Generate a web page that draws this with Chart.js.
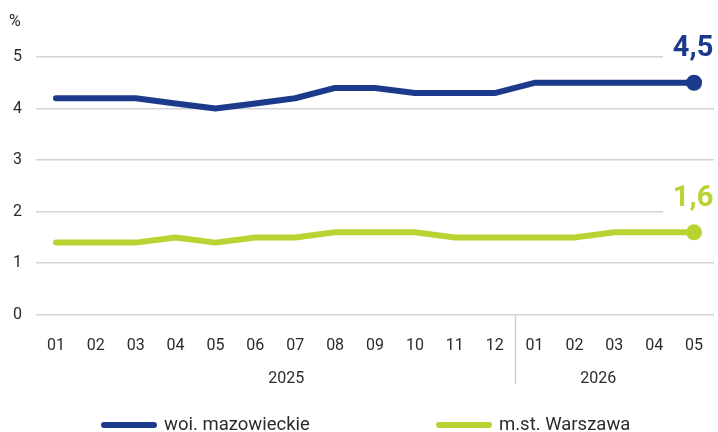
<!DOCTYPE html>
<html>
<head>
<meta charset="utf-8">
<script src="https://cdn.jsdelivr.net/npm/chart.js@4"></script>
<style>
  html, body { margin: 0; padding: 0; background: #fff; }
  #wrap { width: 718px; height: 432px; }
</style>
</head>
<body>
<div id="wrap"><canvas id="chart" width="718" height="432"></canvas></div>
<script>
// data
const months = ['01', '02', '03', '04', '05', '06', '07', '08', '09', '10', '11', '12', '01', '02', '03', '04', '05'];
const years = [{ label: '2025', from: 0, to: 11 }, { label: '2026', from: 12, to: 16 }];
const mazowieckie = [4.2, 4.2, 4.2, 4.1, 4.0, 4.1, 4.2, 4.4, 4.4, 4.3, 4.3, 4.3, 4.5, 4.5, 4.5, 4.5, 4.5];
const warszawa = [1.4, 1.4, 1.4, 1.5, 1.4, 1.5, 1.5, 1.6, 1.6, 1.6, 1.5, 1.5, 1.5, 1.5, 1.6, 1.6, 1.6];
const seriesNames = ['woi. mazowieckie', 'm.st. Warszawa'];
const yTicks = [0, 1, 2, 3, 4, 5];

const BLUE = '#1b3a8b';
const GREEN = '#b7d433';
const FONT = 'Roboto, "Open Sans", sans-serif';
const TEXT = '#2b2b2b';

const lastOnly = (r) => (ctx) => ctx.dataIndex === months.length - 1 ? r : 0;

// extra drawing: unit, last-value labels, years, separator, legend
const extras = {
    id: 'extras',
    afterDatasetsDraw(chart) {
        const { ctx, scales: { x, y } } = chart;
        ctx.save();

        // "%" unit
        ctx.fillStyle = TEXT;
        ctx.font = '16px ' + FONT;
        ctx.textAlign = 'left';
        ctx.textBaseline = 'middle';
        ctx.fillText('%', 9, 22);

        // last value labels, with a white gap in the gridline
        const last = months.length - 1;
        [[mazowieckie, BLUE], [warszawa, GREEN]].forEach(([data, color]) => {
            const px = x.getPixelForValue(last);
            const py = y.getPixelForValue(data[last]);
            ctx.fillStyle = '#fff';
            ctx.fillRect(663, py - 50, 60, 38);
            ctx.fillStyle = color;
            ctx.font = 'bold 29px ' + FONT;
            ctx.textAlign = 'center';
            ctx.textBaseline = 'middle';
            ctx.fillText(String(data[last]).replace('.', ','), px - 1, py - 34);
        });

        // year labels (nudged a bit toward the separator, like the original)
        ctx.fillStyle = TEXT;
        ctx.font = '16px ' + FONT;
        ctx.textAlign = 'center';
        const nudge = [11, -16];
        years.forEach((yr, i) => {
            const cx = (x.getPixelForValue(yr.from) + x.getPixelForValue(yr.to)) / 2;
            ctx.fillText(yr.label, cx + nudge[i], 379);
        });

        // separator between years
        const sx = Math.round((x.getPixelForValue(11) + x.getPixelForValue(12)) / 2) + 0.5;
        ctx.strokeStyle = '#cfcfcf';
        ctx.lineWidth = 1.5;
        ctx.beginPath();
        ctx.moveTo(sx, y.getPixelForValue(0));
        ctx.lineTo(sx, 384);
        ctx.stroke();

        // legend
        const legend = [[seriesNames[0], BLUE, 101], [seriesNames[1], GREEN, 436]];
        legend.forEach(([name, color, lx]) => {
            ctx.strokeStyle = color;
            ctx.lineWidth = 6;
            ctx.lineCap = 'round';
            ctx.beginPath();
            ctx.moveTo(lx + 3, 425);
            ctx.lineTo(lx + 53, 425);
            ctx.stroke();
            ctx.fillStyle = TEXT;
            ctx.font = '18.5px ' + FONT;
            ctx.textAlign = 'left';
            ctx.fillText(name, lx + 63, 425);
        });

        ctx.restore();
    }
};

new Chart(document.getElementById('chart'), {
    type: 'line',
    data: {
        labels: months,
        datasets: [{
            label: seriesNames[0],
            data: mazowieckie,
            borderColor: BLUE,
            backgroundColor: BLUE,
            borderWidth: 6,
            tension: 0,
            pointRadius: lastOnly(8),
            pointBorderWidth: 0,
            borderCapStyle: 'round',
            borderJoinStyle: 'round'
        }, {
            label: seriesNames[1],
            data: warszawa,
            borderColor: GREEN,
            backgroundColor: GREEN,
            borderWidth: 6,
            tension: 0,
            pointRadius: lastOnly(8),
            pointBorderWidth: 0,
            borderCapStyle: 'round',
            borderJoinStyle: 'round'
        }]
    },
    options: {
        responsive: false,
        animation: false,
        events: [],
        layout: { autoPadding: false, padding: { top: 57, right: 4, left: 0, bottom: 62 } },
        scales: {
            x: {
                offset: true,
                grid: { display: false },
                border: { display: false },
                afterFit: (axis) => { axis.paddingLeft = 0; axis.paddingRight = 0; },
                ticks: {
                    color: TEXT,
                    font: { family: FONT, size: 16 },
                    padding: 14,
                    maxRotation: 0,
                    autoSkip: false
                }
            },
            y: {
                min: 0,
                max: 5,
                afterBuildTicks: (axis) => { axis.ticks = yTicks.map(v => ({ value: v })); },
                afterFit: (axis) => { axis.width = 36; },
                grid: { color: '#d4d4d4', lineWidth: 1.5, drawTicks: false },
                border: { display: false },
                ticks: {
                    color: TEXT,
                    font: { family: FONT, size: 16 },
                    padding: 14
                }
            }
        },
        plugins: {
            legend: { display: false },
            tooltip: { enabled: false }
        }
    },
    plugins: [extras]
});
</script>
</body>
</html>
